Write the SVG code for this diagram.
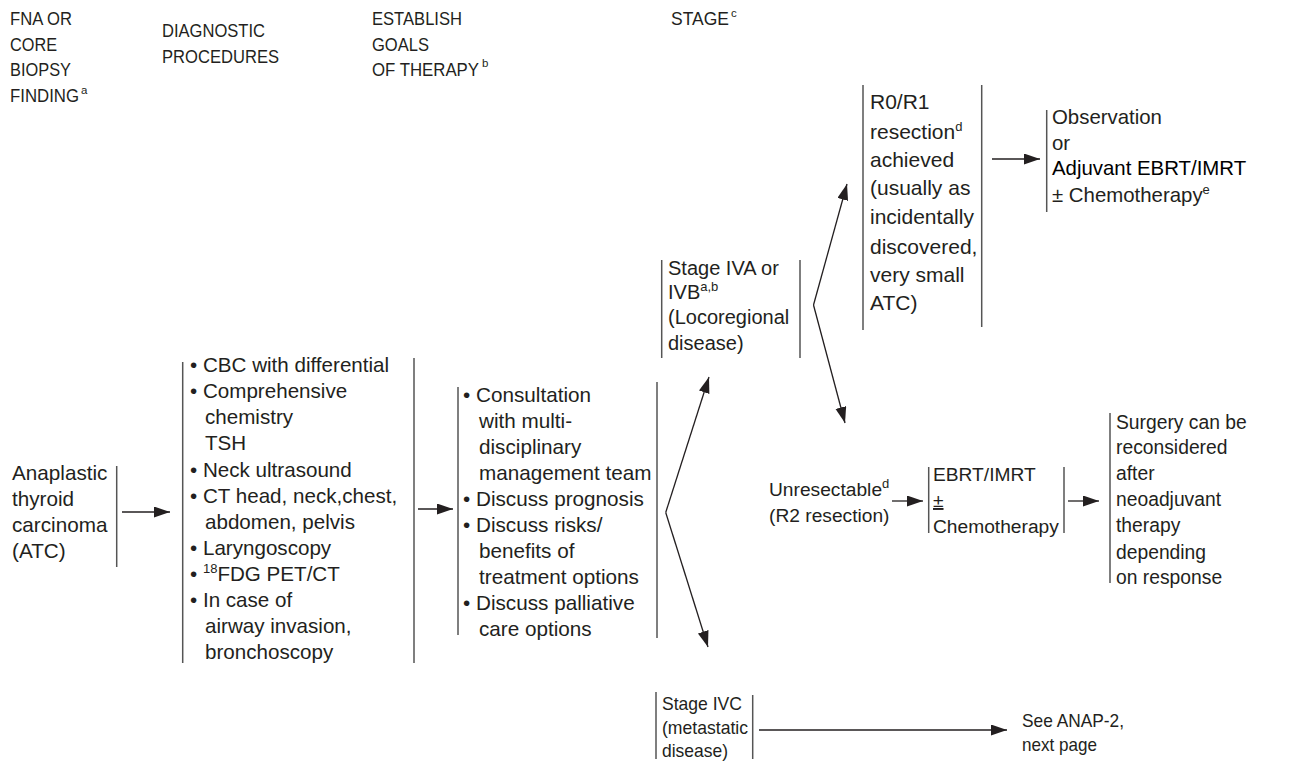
<svg xmlns="http://www.w3.org/2000/svg" width="1302" height="763" viewBox="0 0 1302 763">
<defs>
<style>
text{font-family:"Liberation Sans",Arial,Helvetica,sans-serif;fill:#231f20;font-size:20px}
.h{font-size:17.5px}
.sup{font-size:11.5px}
.n{font-size:19px}
.bar{stroke:#555;stroke-width:1.5;fill:none}
.c{stroke:#231f20;stroke-width:1.3;fill:none}
</style>
<marker id="ah" markerUnits="userSpaceOnUse" markerWidth="18" markerHeight="12" refX="16" refY="5.5" orient="auto">
<path d="M0,0 L16,5.5 L0,11 z" fill="#231f20"/>
</marker>
</defs>
<rect width="1302" height="763" fill="#fff"/>

<g id="headers">
<text class="h" x="10" y="25" textLength="62" lengthAdjust="spacingAndGlyphs">FNA OR</text>
<text class="h" x="10" y="51" textLength="47" lengthAdjust="spacingAndGlyphs">CORE</text>
<text class="h" x="10" y="76" textLength="61" lengthAdjust="spacingAndGlyphs">BIOPSY</text>
<text class="h" x="10" y="102" textLength="69" lengthAdjust="spacingAndGlyphs">FINDING</text>
<text class="sup" x="81" y="94">a</text>
<text class="h" x="162" y="37" textLength="103" lengthAdjust="spacingAndGlyphs">DIAGNOSTIC</text>
<text class="h" x="162" y="63" textLength="117" lengthAdjust="spacingAndGlyphs">PROCEDURES</text>
<text class="h" x="372" y="25" textLength="90" lengthAdjust="spacingAndGlyphs">ESTABLISH</text>
<text class="h" x="372" y="51" textLength="57" lengthAdjust="spacingAndGlyphs">GOALS</text>
<text class="h" x="372" y="76" textLength="107" lengthAdjust="spacingAndGlyphs">OF THERAPY</text>
<text class="sup" x="482" y="67">b</text>
<text class="h" x="671" y="25" textLength="58" lengthAdjust="spacingAndGlyphs">STAGE</text>
<text class="sup" x="731" y="17">c</text>
</g>

<g id="atc">
<text x="12" y="480" style="font-size:20.7px">Anaplastic</text>
<text x="12" y="506" style="font-size:20.7px">thyroid</text>
<text x="12" y="532" style="font-size:20.7px">carcinoma</text>
<text x="12" y="558" style="font-size:20.7px">(ATC)</text>
<line class="bar" x1="116.7" y1="466" x2="116.7" y2="567"/>
</g>

<g id="diagnostic">
<line class="bar" x1="182.7" y1="362" x2="182.7" y2="663"/>
<line class="bar" x1="414" y1="358" x2="414" y2="663"/>
<text x="190" y="372" style="font-size:20.6px">• CBC with differential</text>
<text x="190" y="398" style="font-size:20.6px">• Comprehensive</text>
<text x="205" y="424" style="font-size:20.6px">chemistry</text>
<text x="205" y="450" style="font-size:20.6px">TSH</text>
<text x="190" y="477" style="font-size:20.6px">• Neck ultrasound</text>
<text x="190" y="503" style="font-size:20.6px">• CT head, neck,chest,</text>
<text x="205" y="529" style="font-size:20.6px">abdomen, pelvis</text>
<text x="190" y="555" style="font-size:20.6px">• Laryngoscopy</text>
<text x="190" y="581" style="font-size:20.6px">• <tspan dy="-8" font-size="13">18</tspan><tspan dy="8">FDG PET/CT</tspan></text>
<text x="190" y="607" style="font-size:20.6px">• In case of</text>
<text x="205" y="633" style="font-size:20.6px">airway invasion,</text>
<text x="205" y="659" style="font-size:20.6px">bronchoscopy</text>
</g>

<g id="goals">
<line class="bar" x1="458" y1="387" x2="458" y2="635"/>
<line class="bar" x1="657" y1="382" x2="657" y2="638"/>
<text x="463" y="402" style="font-size:20.7px">• Consultation</text>
<text x="479" y="428" style="font-size:20.7px">with multi-</text>
<text x="479" y="454" style="font-size:20.7px">disciplinary</text>
<text x="479" y="480" style="font-size:20.7px">management team</text>
<text x="463" y="506" style="font-size:20.7px">• Discuss prognosis</text>
<text x="463" y="532" style="font-size:20.7px">• Discuss risks/</text>
<text x="479" y="558" style="font-size:20.7px">benefits of</text>
<text x="479" y="584" style="font-size:20.7px">treatment options</text>
<text x="463" y="610" style="font-size:20.7px">• Discuss palliative</text>
<text x="479" y="636" style="font-size:20.7px">care options</text>
</g>

<g id="stage-iva">
<line class="bar" x1="661.7" y1="260" x2="661.7" y2="358"/>
<line class="bar" x1="800" y1="260" x2="800" y2="358"/>
<text x="668" y="275">Stage IVA or</text>
<text x="668" y="299">IVB<tspan dy="-8" font-size="13">a,b</tspan></text>
<text x="668" y="324">(Locoregional</text>
<text x="668" y="350">disease)</text>
</g>

<g id="r0r1">
<line class="bar" x1="863" y1="85" x2="863" y2="330"/>
<line class="bar" x1="981.7" y1="85" x2="981.7" y2="327"/>
<text x="870" y="109" style="font-size:21px">R0/R1</text>
<text x="870" y="139" style="font-size:21px">resection<tspan dy="-8" font-size="13">d</tspan></text>
<text x="870" y="167" style="font-size:21px">achieved</text>
<text x="870" y="195" style="font-size:21px">(usually as</text>
<text x="870" y="224" style="font-size:21px">incidentally</text>
<text x="870" y="254" style="font-size:21px">discovered,</text>
<text x="870" y="282" style="font-size:21px">very small</text>
<text x="870" y="310" style="font-size:21px">ATC)</text>
</g>

<g id="observation">
<line class="bar" x1="1046.7" y1="110" x2="1046.7" y2="212"/>
<text x="1052" y="124" style="font-size:20.4px">Observation</text>
<text x="1052" y="150" style="font-size:20.4px">or</text>
<text x="1052" y="175" style="font-size:20.4px;fill:#000">Adjuvant EBRT/IMRT</text>
<text x="1052" y="202" style="font-size:20.4px">± Chemotherapy<tspan dy="-8" font-size="13">e</tspan></text>
</g>

<g id="unresectable">
<text x="769" y="496" style="font-size:19.2px">Unresectable<tspan dy="-8" font-size="13">d</tspan></text>
<text x="769" y="522" style="font-size:19.2px">(R2 resection)</text>
</g>

<g id="ebrt">
<line class="bar" x1="928.7" y1="467" x2="928.7" y2="533"/>
<line class="bar" x1="1064" y1="467" x2="1064" y2="533"/>
<text x="933" y="481" style="font-size:19.2px">EBRT/IMRT</text>
<text x="933" y="507" style="font-size:19.2px;text-decoration:underline">±</text>
<text x="933" y="533" style="font-size:19.2px">Chemotherapy</text>
</g>

<g id="surgery">
<line class="bar" x1="1110" y1="413" x2="1110" y2="583"/>
<text x="1116" y="429" style="font-size:19.3px">Surgery can be</text>
<text x="1116" y="454" style="font-size:19.3px">reconsidered</text>
<text x="1116" y="480" style="font-size:19.3px">after</text>
<text x="1116" y="506" style="font-size:19.3px">neoadjuvant</text>
<text x="1116" y="532" style="font-size:19.3px">therapy</text>
<text x="1116" y="559" style="font-size:19.3px">depending</text>
<text x="1116" y="584" style="font-size:19.3px">on response</text>
</g>

<g id="stage-ivc">
<line class="bar" x1="656" y1="692" x2="656" y2="759"/>
<line class="bar" x1="752.7" y1="695" x2="752.7" y2="759"/>
<text class="n" x="662" y="710" textLength="80" lengthAdjust="spacingAndGlyphs">Stage IVC</text>
<text class="n" x="662" y="734" textLength="86" lengthAdjust="spacingAndGlyphs">(metastatic</text>
<text class="n" x="662" y="757" textLength="66" lengthAdjust="spacingAndGlyphs">disease)</text>
</g>

<g id="anap2">
<text class="n" x="1022" y="727" textLength="102" lengthAdjust="spacingAndGlyphs">See ANAP-2,</text>
<text class="n" x="1022" y="751" textLength="75" lengthAdjust="spacingAndGlyphs">next page</text>
</g>

<g id="connectors">
<line class="c" x1="122" y1="512" x2="170" y2="512" marker-end="url(#ah)"/>
<line class="c" x1="418" y1="509" x2="453" y2="509" marker-end="url(#ah)"/>
<line class="c" x1="665.7" y1="512.5" x2="709" y2="377" marker-end="url(#ah)"/>
<line class="c" x1="665.7" y1="512.5" x2="708" y2="647" marker-end="url(#ah)"/>
<line class="c" x1="813.5" y1="305" x2="847" y2="184" marker-end="url(#ah)"/>
<line class="c" x1="813.5" y1="305" x2="845" y2="423" marker-end="url(#ah)"/>
<line class="c" x1="992" y1="159" x2="1040" y2="159" marker-end="url(#ah)"/>
<line class="c" x1="892" y1="501" x2="923" y2="501" marker-end="url(#ah)"/>
<line class="c" x1="1068" y1="501" x2="1099" y2="501" marker-end="url(#ah)"/>
<line class="c" x1="759" y1="730" x2="1007" y2="730" marker-end="url(#ah)"/>
</g>
</svg>
